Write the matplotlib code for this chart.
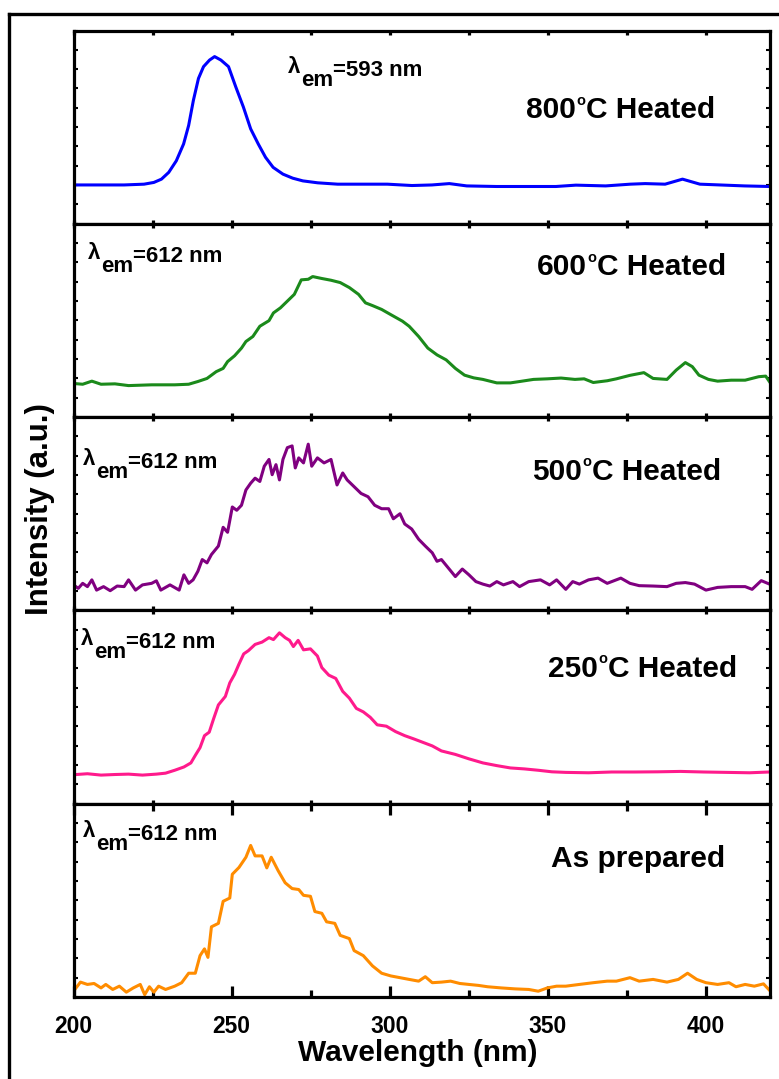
import matplotlib
matplotlib.use("Agg")
import matplotlib.pyplot as plt
from matplotlib.lines import Line2D
from matplotlib.ticker import MultipleLocator

plt.rcParams["font.family"] = ["Liberation Sans", "DejaVu Sans"]
plt.rcParams["font.weight"] = "bold"

# 800 C heated (lambda_em = 593 nm)
wl800 = [200.0, 208.2, 216.0, 222.3, 225.4, 227.8, 230.1, 232.5, 234.8, 236.4, 237.9, 239.5,
         241.1, 243.0, 244.6, 246.6, 249.0, 251.3, 253.7, 256.0, 258.4, 260.7, 263.1, 266.2,
         269.3, 272.5, 277.2, 283.5, 292.9, 299.2, 307.0, 313.3, 318.8, 324.3, 333.7, 343.1,
         352.5, 358.8, 368.2, 376.0, 380.7, 387.0, 392.5, 398.0, 404.3, 412.1, 420.0]
int800 = [20.1, 20.1, 20.1, 20.5, 21.4, 23.1, 26.6, 32.6, 41.3, 50.9, 63.9, 75.2,
          81.3, 84.7, 86.5, 84.7, 81.3, 70.8, 60.4, 49.1, 41.3, 34.4, 29.2, 25.7,
          23.6, 22.2, 21.2, 20.5, 20.5, 20.5, 19.8, 20.1, 20.8, 19.6, 19.3, 19.3,
          19.3, 20.0, 19.6, 20.5, 20.8, 20.5, 23.1, 20.5, 20.1, 19.6, 19.3]

# 600 C heated
wl600 = [200.0, 202.9, 205.8, 208.7, 213.1, 217.4, 224.7, 232.0, 236.4, 239.3, 242.2, 245.1,
         247.3, 248.7, 250.9, 253.1, 254.5, 256.7, 258.9, 261.8, 263.2, 265.4, 267.6, 269.8,
         272.0, 274.2, 275.6, 278.5, 281.4, 284.3, 287.2, 290.1, 292.3, 294.5, 297.4, 300.3,
         304.0, 306.1, 309.1, 312.0, 314.9, 317.8, 320.7, 323.6, 326.5, 329.4, 333.8, 338.1,
         341.0, 345.4, 349.8, 354.1, 358.5, 361.4, 364.3, 368.7, 371.6, 375.9, 380.3, 383.2,
         387.6, 390.5, 393.4, 395.6, 397.7, 400.7, 403.6, 407.9, 412.3, 416.6, 418.8, 420.0]
int600 = [17.4, 17.0, 18.6, 17.0, 17.2, 16.3, 16.7, 16.7, 17.0, 18.4, 20.0, 23.5,
          25.2, 28.7, 31.7, 35.7, 39.1, 41.7, 47.0, 49.9, 53.9, 56.5, 60.0, 63.5,
          71.0, 71.3, 72.7, 71.7, 70.8, 69.6, 67.0, 63.5, 59.1, 57.7, 55.7, 53.0,
          49.6, 47.0, 41.7, 35.7, 32.2, 29.6, 25.2, 21.7, 20.3, 19.5, 17.7, 17.7,
          18.4, 19.5, 19.8, 20.2, 19.5, 19.8, 17.9, 18.8, 19.8, 21.6, 23.0, 20.0,
          19.5, 24.3, 28.2, 26.1, 21.7, 19.5, 18.6, 19.1, 19.1, 20.9, 21.2, 18.3]

# 500 C heated
wl500 = [200.0, 201.5, 202.9, 204.4, 205.8, 207.3, 209.5, 211.6, 213.8, 216.0, 217.4, 219.6,
         221.8, 224.7, 226.2, 227.6, 230.5, 233.4, 234.9, 236.4, 237.8, 239.3, 240.7, 242.2,
         243.6, 245.8, 247.3, 248.7, 250.2, 251.6, 253.1, 254.5, 256.0, 257.4, 258.9, 260.3,
         261.8, 262.8, 264.0, 265.1, 266.2, 267.6, 269.1, 270.1, 271.2, 272.7, 274.2, 275.3,
         277.1, 279.2, 281.4, 283.3, 285.1, 286.5, 288.7, 290.9, 293.1, 295.2, 297.4, 299.6,
         301.1, 303.2, 304.7, 306.9, 309.1, 311.2, 313.4, 314.9, 316.3, 318.5, 320.7, 322.9,
         325.0, 327.2, 329.4, 331.6, 333.8, 335.9, 338.9, 341.0, 343.9, 347.6, 350.5, 352.7,
         355.6, 357.8, 359.9, 362.8, 365.8, 368.7, 373.0, 375.9, 378.8, 383.2, 387.6, 390.5,
         393.4, 396.3, 399.9, 403.6, 407.9, 412.3, 414.5, 417.4, 420.0]
int500 = [13.2, 11.4, 14.0, 12.3, 15.8, 10.5, 12.3, 10.2, 12.6, 12.3, 15.8, 10.5,
          13.2, 14.0, 15.3, 10.5, 13.2, 10.5, 18.4, 14.0, 15.8, 20.2, 26.3, 24.6,
          28.9, 33.3, 43.0, 40.4, 53.5, 51.8, 54.4, 62.3, 65.8, 68.4, 66.7, 74.6,
          78.1, 70.2, 75.4, 67.5, 78.1, 84.2, 85.1, 73.7, 78.9, 76.3, 86.0, 74.6,
          78.9, 76.3, 78.1, 64.9, 71.1, 67.5, 64.0, 60.5, 58.8, 54.4, 52.6, 52.6,
          47.4, 50.0, 44.7, 42.1, 36.8, 33.3, 29.8, 25.4, 26.3, 21.9, 17.5, 21.4,
          18.4, 14.9, 13.6, 12.6, 14.9, 13.2, 14.9, 12.3, 14.9, 15.8, 13.2, 15.8,
          10.9, 14.9, 13.6, 15.8, 16.7, 14.0, 16.7, 14.0, 12.8, 12.6, 12.3, 14.0,
          14.4, 13.6, 10.5, 11.9, 12.3, 12.3, 10.9, 15.4, 13.6]

# 250 C heated
wl250 = [200.0, 204.4, 208.7, 213.1, 217.4, 221.8, 226.2, 229.1, 232.0, 234.9, 237.1, 238.5,
         240.0, 241.4, 242.9, 244.3, 245.8, 248.0, 249.4, 250.9, 252.3, 253.8, 255.3, 257.4,
         259.6, 261.8, 263.2, 265.1, 266.9, 268.3, 269.5, 271.0, 272.7, 274.9, 277.1, 278.5,
         280.7, 282.9, 285.1, 287.2, 289.4, 291.6, 293.8, 296.0, 298.9, 301.8, 304.7, 307.6,
         310.5, 313.4, 316.3, 320.7, 325.0, 329.4, 333.8, 338.1, 342.5, 346.9, 351.2, 355.6,
         362.8, 370.1, 377.4, 384.7, 391.9, 399.2, 406.5, 413.7, 420.0]
int250 = [15.0, 15.5, 14.8, 15.1, 15.3, 14.8, 15.3, 15.8, 17.3, 19.0, 21.1, 25.0,
          29.0, 35.2, 37.0, 44.0, 51.1, 55.5, 62.5, 66.9, 72.2, 77.5, 79.2, 82.4,
          83.6, 85.9, 84.9, 88.4, 85.9, 84.5, 81.3, 84.5, 79.6, 80.1, 76.4, 70.4,
          66.5, 64.8, 58.1, 54.6, 49.3, 47.5, 44.7, 40.8, 40.1, 37.3, 35.2, 33.5,
          31.7, 29.9, 27.3, 25.5, 23.2, 21.1, 19.7, 18.5, 18.0, 17.3, 16.5, 16.2,
          16.0, 16.4, 16.4, 16.5, 16.7, 16.4, 16.2, 16.0, 16.4]

# as prepared
wlap = [200.0, 202.2, 204.4, 206.5, 208.7, 210.2, 212.4, 214.5, 216.7, 218.9, 221.1, 222.5,
        224.0, 225.4, 226.9, 229.1, 232.0, 234.2, 236.4, 238.5, 240.0, 241.4, 242.5, 243.6,
        245.8, 247.3, 249.4, 250.2, 252.3, 254.5, 256.0, 257.4, 259.6, 261.1, 262.5, 264.7,
        266.9, 269.1, 271.2, 272.7, 274.9, 276.3, 278.5, 280.0, 282.6, 284.3, 287.2, 288.7,
        291.6, 294.5, 297.4, 300.3, 303.2, 306.1, 309.1, 311.2, 313.4, 316.3, 319.2, 322.1,
        325.0, 328.0, 330.9, 335.2, 339.6, 343.9, 346.9, 349.8, 352.7, 355.6, 359.9, 364.3,
        368.7, 371.6, 375.9, 378.8, 383.2, 387.6, 391.2, 394.1, 397.0, 399.9, 403.6, 407.2,
        409.4, 412.3, 415.2, 418.1, 420.0]
intap = [3.0, 7.7, 6.5, 7.0, 4.7, 6.5, 3.9, 5.6, 2.5, 4.7, 6.5, 1.2,
         5.3, 2.5, 5.6, 3.9, 5.6, 7.4, 12.3, 12.3, 21.4, 24.9, 20.5, 36.3,
         38.1, 49.5, 51.2, 63.5, 67.0, 72.3, 78.4, 73.0, 73.0, 66.8, 72.3, 65.3,
         59.1, 56.1, 55.6, 52.6, 52.1, 44.2, 43.3, 38.9, 38.1, 31.9, 30.2, 24.0,
         21.4, 16.1, 12.3, 10.9, 10.0, 9.1, 8.2, 10.5, 7.4, 7.7, 8.2, 7.0,
         6.5, 6.0, 5.3, 4.7, 4.2, 3.9, 3.0, 4.7, 5.6, 5.6, 6.5, 7.4,
         8.2, 8.2, 10.0, 8.2, 9.1, 7.7, 9.1, 12.3, 9.1, 7.4, 6.5, 7.4,
         5.3, 6.5, 5.6, 6.8, 3.5]

# (x, y, colour, temperature, label x, label y, em value, em x, em y)
panels = [
    (wl800, int800, "#0000ff", "800", 342.9, 54.7, "593", 267.8, 78.0),
    (wl600, int600, "#1b8a1b", "600", 346.5, 73.5, "612", 204.6, 81.8),
    (wl500, int500, "#800080", "500", 345.0, 67.5, "612", 203.0, 75.2),
    (wl250, int250, "#ff1a8c", "250", 350.0, 65.6, "612", 202.4, 82.2),
    (wlap, intap, "#ff8c00", None, 351.0, 67.1, "612", 203.0, 82.8),
]


def temp_label(ax, x, y, temp):
    if temp is None:
        ax.text(x, y, "As prepared", fontsize=21.5, va="baseline")
        return
    t1 = ax.text(x, y, temp, fontsize=21.5, va="baseline")
    # small raised "o" used as the degree sign
    t2 = ax.annotate("o", xy=(1, 0), xycoords=t1, xytext=(0.4, 14.0),
                     textcoords="offset points", fontsize=10.5, va="baseline")
    ax.annotate("C Heated", xy=(1, 0), xycoords=(t2, t1), xytext=(0.4, 0),
                textcoords="offset points", fontsize=21.5, va="bottom")


def em_label(ax, x, y, value):
    t1 = ax.text(x, y, "λ", fontsize=16, va="baseline")
    t2 = ax.annotate("em", xy=(1, 0), xycoords=t1, xytext=(0.3, -9.4),
                     textcoords="offset points", fontsize=16, va="bottom")
    ax.annotate("=" + value + " nm", xy=(1, 0), xycoords=t2, xytext=(0, 7.2),
                textcoords="offset points", fontsize=16, va="bottom")


W, H = 779, 1079
fig = plt.figure(figsize=(W / 100, H / 100), dpi=100)

left = 73.5 / W
width = 696 / W
top = 30.5
ph = 193.3

for i, (x, y, color, temp, lx, ly, em, ex, ey) in enumerate(panels):
    b = 1 - (top + (i + 1) * ph) / H
    ax = fig.add_axes([left, b, width, ph / H])
    ax.plot(x, y, color=color, lw=2.2)
    ax.set_xlim(200, 420)
    ax.set_ylim(0, 100)
    ax.xaxis.set_major_locator(MultipleLocator(50))
    ax.xaxis.set_minor_locator(MultipleLocator(25))
    ax.yaxis.set_major_locator(MultipleLocator(10))
    for s in ax.spines.values():
        s.set_linewidth(2.3)
    ax.tick_params(axis="y", which="both", direction="in", left=True, right=True,
                   labelleft=False, length=3, width=1.5)
    last = i == len(panels) - 1
    ax.tick_params(axis="x", which="major", direction="in", top=True, bottom=True,
                   length=8 if last else 3, width=2.3, labelbottom=last,
                   labelsize=16.5, pad=13)
    ax.tick_params(axis="x", which="minor", direction="in", top=True, bottom=True,
                   length=5 if last else 3, width=2.3)
    if last:
        for t in ax.get_xticklabels():
            t.set_fontweight("bold")
    temp_label(ax, lx, ly, temp)
    em_label(ax, ex, ey, em)

fig.text(418 / W, 1 - 1053 / H, "Wavelength (nm)", fontsize=21.5,
         ha="center", va="center")
fig.text(40 / W, 1 - 509 / H, "Intensity (a.u.)", fontsize=22.5,
         ha="center", va="center", rotation=90)

# outer frame, running off the right and bottom edges
fy = 1 - 13.5 / H
fx = 8.5 / W
fig.add_artist(Line2D([fx, fx], [-0.01, fy], transform=fig.transFigure, color="black", lw=2.4))
fig.add_artist(Line2D([fx, 1.01], [fy, fy], transform=fig.transFigure, color="black", lw=2.4))

fig.savefig("out.png", dpi=100)
